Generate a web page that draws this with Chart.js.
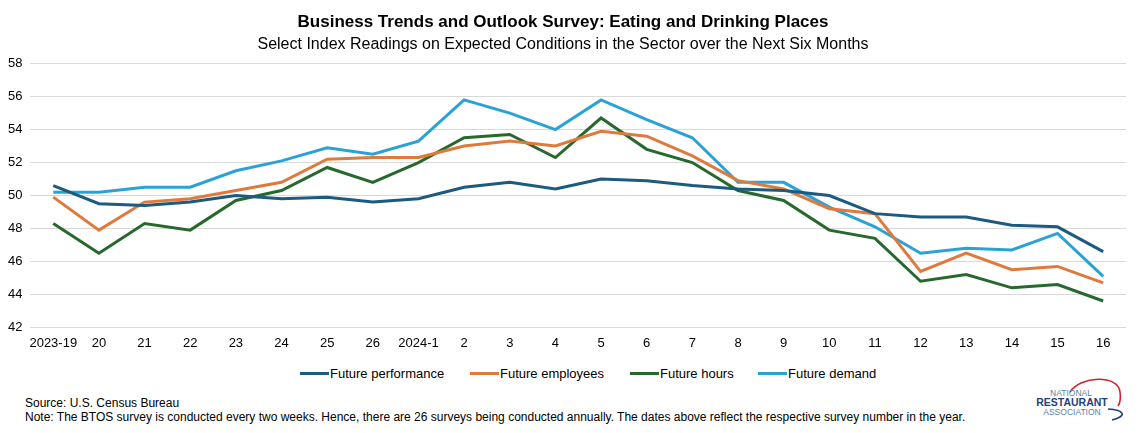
<!DOCTYPE html>
<html>
<head>
<meta charset="utf-8">
<script src="https://cdn.jsdelivr.net/npm/chart.js@4/dist/chart.umd.min.js"></script>
<style>
  html, body { margin: 0; padding: 0; background: #fff; }
  #wrap { position: relative; width: 1140px; height: 433px; font-family: "Liberation Sans", Arial, sans-serif; }
  #chartBox { position: absolute; left: 0; top: 0; width: 1140px; height: 359px; }
  .foot { position: absolute; left: 25px; font-size: 12px; color: #000; white-space: nowrap; }
  #logo { position: absolute; left: 1030px; top: 375px; }
  .lg { position: absolute; top: 366px; height: 16px; font-size: 13px; line-height: 16px; white-space: nowrap; color: #000; }
  .lg span.sw { display: inline-block; width: 29px; height: 3px; vertical-align: middle; margin-right: 1px; position: relative; top: -1px; }
</style>
</head>
<body>
<div id="wrap">
  <div id="chartBox"><canvas id="c"></canvas></div>
  <div id="legend"></div>
  <div class="foot" style="top:396px;">Source: U.S. Census Bureau</div>
  <div class="foot" style="top:410px;">Note: The BTOS survey is conducted every two weeks. Hence, there are 26 surveys being conducted annually. The dates above reflect the respective survey number in the year.</div>
  <svg id="logo" width="110" height="57" viewBox="0 0 110 57">
    <path d="M 40 17 C 50 1, 88 -1, 90 17 C 91 24, 90 28, 88 31" fill="none" stroke="#d2232a" stroke-width="1.6"/>
    <path d="M 78 34 C 94 35, 98 41, 82 45" fill="none" stroke="#1f3f7a" stroke-width="1.6"/>
    <text x="41" y="21" font-family="Liberation Sans, Arial" font-size="8.5" fill="#5a7fa8" text-anchor="middle">NATIONAL</text>
    <text x="42" y="31" font-family="Liberation Sans, Arial" font-size="10.5" font-weight="bold" fill="#1f3f7a" text-anchor="middle">RESTAURANT</text>
    <text x="42" y="40" font-family="Liberation Sans, Arial" font-size="8.5" fill="#5a7fa8" text-anchor="middle">ASSOCIATION</text>
  </svg>
</div>
<script>
const categories = ["2023-19","20","21","22","23","24","25","26","2024-1","2","3","4","5","6","7","8","9","10","11","12","13","14","15","16"];
const futurePerformance = [50.6,49.5,49.4,49.6,50.0,49.8,49.9,49.6,49.8,50.5,50.8,50.4,51.0,50.9,50.6,50.4,50.3,50.0,48.9,48.7,48.7,48.2,48.1,46.6];
const futureEmployees   = [49.9,47.9,49.6,49.8,50.3,50.8,52.2,52.3,52.3,53.0,53.3,53.0,53.9,53.6,52.4,50.9,50.4,49.2,48.9,45.4,46.5,45.5,45.7,44.7];
const futureHours       = [48.3,46.5,48.3,47.9,49.7,50.3,51.7,50.8,52.0,53.5,53.7,52.3,54.7,52.8,52.0,50.3,49.7,47.9,47.4,44.8,45.2,44.4,44.6,43.6];
const futureDemand      = [50.2,50.2,50.5,50.5,51.5,52.1,52.9,52.5,53.3,55.8,55.0,54.0,55.8,54.6,53.5,50.8,50.8,49.3,48.1,46.5,46.8,46.7,47.7,45.1];
const yTicks = [42,44,46,48,50,52,54,56,58];
const seriesNames = ["Future performance","Future employees","Future hours","Future demand"];
const seriesColors = ["#1d5a80","#e07a3c","#27692d","#2ba2d6"];
const legendLefts = [300, 470, 630, 758];

const mk = (i, data) => ({
  label: seriesNames[i], data, borderColor: seriesColors[i], backgroundColor: seriesColors[i],
  borderWidth: 3, pointRadius: 0, tension: 0, fill: false
});

Chart.defaults.font.family = '"Liberation Sans", Arial, sans-serif';
Chart.defaults.color = '#000';

const chart = new Chart(document.getElementById('c'), {
  type: 'line',
  data: {
    labels: categories,
    datasets: [
      mk(0, futurePerformance),
      mk(1, futureEmployees),
      mk(2, futureHours),
      mk(3, futureDemand)
    ]
  },
  options: {
    responsive: true,
    maintainAspectRatio: false,
    animation: false,
    layout: { padding: { left: 0, right: 14, top: 8, bottom: 0 } },
    plugins: {
      title: {
        display: true,
        text: 'Business Trends and Outlook Survey: Eating and Drinking Places',
        font: { size: 17, weight: 'bold' },
        padding: { top: 4, bottom: 2 }
      },
      subtitle: {
        display: true,
        text: 'Select Index Readings on Expected Conditions in the Sector over the Next Six Months',
        font: { size: 16 },
        padding: { top: 1, bottom: 9 }
      },
      legend: { display: false },
      tooltip: { enabled: false }
    },
    scales: {
      x: {
        offset: true,
        grid: { display: false, drawTicks: false },
        border: { display: false },
        ticks: { font: { size: 13 }, maxRotation: 0, autoSkip: false, padding: 8 }
      },
      y: {
        min: 42, max: 58,
        afterBuildTicks: (axis) => { axis.ticks = yTicks.map(v => ({ value: v })); },
        grid: { color: '#d9d9d9', lineWidth: 1, drawTicks: false },
        border: { display: false },
        ticks: { font: { size: 13 }, padding: 8 }
      }
    }
  }
});

const lg = document.getElementById('legend');
chart.data.datasets.forEach((ds, i) => {
  const d = document.createElement('div');
  d.className = 'lg';
  d.style.left = legendLefts[i] + 'px';
  const sw = document.createElement('span');
  sw.className = 'sw';
  sw.style.background = ds.borderColor;
  d.appendChild(sw);
  d.appendChild(document.createTextNode(ds.label));
  lg.appendChild(d);
});
</script>
</body>
</html>
